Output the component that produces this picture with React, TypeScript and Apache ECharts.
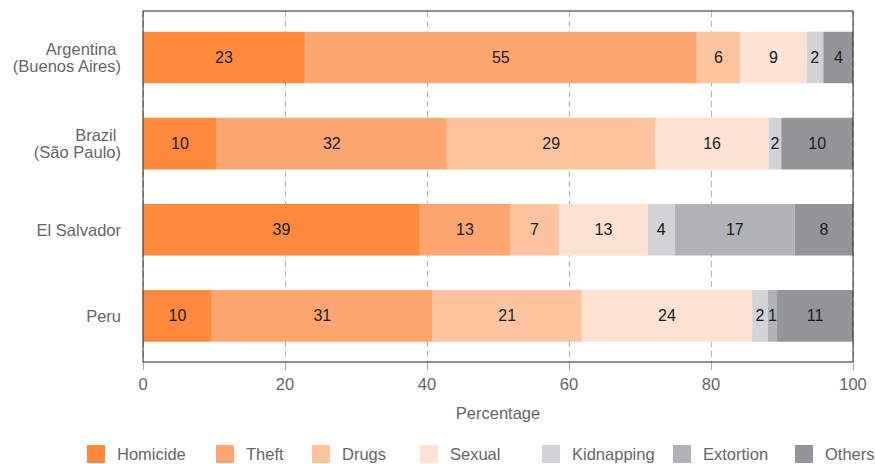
import React, { useEffect, useRef } from "react";
import * as echarts from "echarts";

const categories = ["Argentina \n(Buenos Aires)", "Brazil \n(São Paulo)", "El Salvador", "Peru"];
const seriesNames = ["Homicide", "Theft", "Drugs", "Sexual", "Kidnapping", "Extortion", "Others"];
const homicide = [22.8, 10.4, 39.0, 9.7];
const theft = [55.2, 32.4, 12.7, 31.1];
const drugs = [6.1, 29.4, 6.9, 21.0];
const sexual = [9.4, 15.9, 12.5, 24.0];
const kidnapping = [2.2, 1.8, 3.8, 2.2];
const extortion = [0.2, 0, 16.9, 1.3];
const others = [4.1, 10.1, 8.2, 10.7];
const xTicks = [0, 20, 40, 60, 80, 100];
const colors = ["#FE8A3D", "#FDA670", "#FEC4A0", "#FEE2D3", "#D1D3D4", "#B1B3B6", "#939598"];
const legendLefts = [87, 216, 312, 420, 542, 673, 795];

const FONT = "'Liberation Sans', Arial, sans-serif";

export default function App() {
  const ref = useRef<HTMLDivElement>(null);
  useEffect(() => {
    document.body.style.margin = "0";
    if (!ref.current) return;
    const chart = echarts.init(ref.current, null, { renderer: "svg" });
    const values = [homicide, theft, drugs, sexual, kidnapping, extortion, others];
    const series = seriesNames.map((name, i) => ({
      name,
      type: "bar",
      stack: "total",
      xAxisIndex: 1,
      yAxisIndex: 1,
      barCategoryGap: "40%",
      itemStyle: { color: colors[i] },
      label: {
        show: true,
        position: "inside",
        color: "#1a1a1a",
        fontSize: 16,
        fontFamily: FONT,
        formatter: (p: any) => (p.value >= 0.5 ? String(Math.round(p.value)) : ""),
      },
      emphasis: { disabled: true },
      data: values[i],
    }));
    chart.setOption({
      animation: false,
      textStyle: { fontFamily: FONT },
      grid: [
        { left: 143, right: 22, top: 11, bottom: 102, show: true, borderColor: "#222", borderWidth: 1, z: 5 },
        { left: 143, right: 22, top: 14.4, bottom: 105 },
      ],
      xAxis: [
        {
          gridIndex: 0,
          type: "value",
          min: xTicks[0],
          max: xTicks[xTicks.length - 1],
          interval: 20,
          axisLine: { show: false },
          axisTick: { show: true, length: 8, lineStyle: { color: "#aaa" } },
          axisLabel: { color: "#666", fontSize: 16.5, margin: 13, fontFamily: FONT },
          splitLine: { show: true, lineStyle: { color: "#b5b5b5", type: [6, 4], width: 1 } },
          name: "Percentage",
          nameLocation: "middle",
          nameGap: 42,
          nameTextStyle: { color: "#666", fontSize: 16.5, fontFamily: FONT },
        },
        { gridIndex: 1, type: "value", min: 0, max: 100, show: false },
      ],
      yAxis: [
        { gridIndex: 0, type: "value", show: false },
        {
          gridIndex: 1,
          type: "category",
          data: categories,
          inverse: true,
          axisLine: { show: false },
          axisTick: { show: false },
          axisLabel: { color: "#666", fontSize: 16.5, lineHeight: 17, margin: 22, fontFamily: FONT },
        },
      ],
      legend: seriesNames.map((n, i) => ({
        data: [n],
        left: legendLefts[i],
        top: 445,
        padding: 0,
        itemWidth: 18,
        itemHeight: 18,
        icon: "rect",
        selectedMode: false,
        textStyle: { color: "#666", fontSize: 16.5, fontFamily: FONT, padding: [0, 0, 0, 7] },
      })),
      series,
    });
    return () => chart.dispose();
  }, []);
  return <div ref={ref} style={{ width: 875, height: 464 }} />;
}
